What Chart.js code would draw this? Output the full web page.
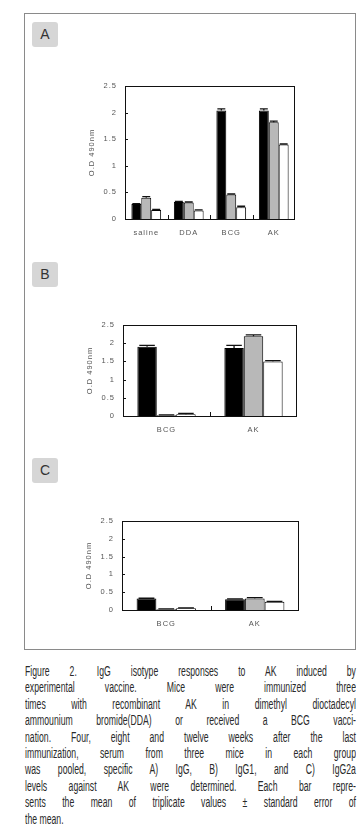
<!DOCTYPE html>
<html>
<head>
<meta charset="utf-8">
<script src="https://cdn.jsdelivr.net/npm/chart.js@4"></script>
<style>
  body { margin: 0; background: #fff; width: 358px; height: 831px; overflow: hidden; position: relative; font-family: "Liberation Sans", Arial, sans-serif; }
  #frame { position: absolute; left: 24px; top: 13px; width: 330px; height: 635px; border: 1.5px solid #8a8a8a; }
  .tag { position: absolute; left: 32px; width: 26px; height: 25px; background: #d6d6d6; border-radius: 3px;
         color: #333; font-size: 14px; line-height: 25px; text-align: center; }
  canvas { position: absolute; }
  #caption { position: absolute; left: 25px; top: 663px; font-family: "Liberation Sans", Arial, sans-serif;
             font-size: 15.5px; line-height: 16.4px; color: #2a2a2a; }
  #caption div { width: 591px; transform: scaleX(0.56); transform-origin: 0 0;
                 text-align: justify; text-align-last: justify; white-space: nowrap; }
  #caption div.last { text-align-last: left; }
</style>
</head>
<body>
<div id="frame"></div>
<div class="tag" style="top:22px">A</div>
<div class="tag" style="top:262px">B</div>
<div class="tag" style="top:458px">C</div>

<canvas id="chartA" width="260" height="180" style="left:50px;top:70px"></canvas>
<canvas id="chartB" width="260" height="135" style="left:50px;top:312px"></canvas>
<canvas id="chartC" width="260" height="132" style="left:50px;top:508px"></canvas>

<div id="caption">
  <div>Figure 2. IgG isotype responses to AK induced by</div>
  <div>experimental vaccine. Mice were immunized three</div>
  <div>times with recombinant AK in dimethyl dioctadecyl</div>
  <div>ammounium bromide(DDA) or received a BCG vacci-</div>
  <div>nation. Four, eight and twelve weeks after the last</div>
  <div>immunization, serum from three mice in each group</div>
  <div>was pooled, specific A) IgG, B) IgG1, and C) IgG2a</div>
  <div>levels against AK were determined. Each bar repre-</div>
  <div>sents the mean of triplicate values ± standard error of</div>
  <div class="last">the mean.</div>
</div>

<script>
// panel A - IgG
let labelsA = ['saline', 'DDA', 'BCG', 'AK'];
let week4A  = [0.28, 0.32, 2.04, 2.04];
let week8A  = [0.40, 0.31, 0.46, 1.82];
let week12A = [0.17, 0.16, 0.22, 1.40];
let err4A   = [0.01, 0.01, 0.03, 0.03];
let err8A   = [0.02, 0.01, 0.01, 0.02];
let err12A  = [0.01, 0.01, 0.02, 0.01];

// panel B - IgG1
let labelsB = ['BCG', 'AK'];
let week4B  = [1.90, 1.87];
let week8B  = [0.02, 2.19];
let week12B = [0.05, 1.50];
let err4B   = [0.04, 0.07];
let err8B   = [0.01, 0.04];
let err12B  = [0.02, 0.02];

// panel C - IgG2a
let labelsC = ['BCG', 'AK'];
let week4C  = [0.32, 0.30];
let week8C  = [0.02, 0.32];
let week12C = [0.05, 0.23];
let err4C   = [0.01, 0.01];
let err8C   = [0.01, 0.03];
let err12C  = [0.01, 0.01];

let yTicks = [0, 0.5, 1, 1.5, 2, 2.5];

// box round the plot, inward ticks and error bars
const framePlugin = {
    id: 'framePlugin',
    beforeDraw(chart) { chart.ctx.letterSpacing = '1px'; },
    afterDatasetsDraw(chart) {
        const ctx = chart.ctx;
        const a = chart.chartArea;
        const y = chart.scales.y;
        ctx.save();
        ctx.strokeStyle = '#111';
        // error bars
        chart.data.datasets.forEach((ds, i) => {
            const meta = chart.getDatasetMeta(i);
            meta.data.forEach((bar, j) => {
                const top = y.getPixelForValue(ds.data[j] + ds.errors[j]);
                const half = bar.width * 0.4;
                ctx.lineWidth = 1.3;
                ctx.beginPath();
                ctx.moveTo(bar.x, bar.y);
                ctx.lineTo(bar.x, top);
                ctx.moveTo(bar.x - half, top);
                ctx.lineTo(bar.x + half, top);
                ctx.stroke();
            });
        });
        // plot box
        ctx.lineWidth = 1;
        ctx.strokeRect(a.left + 0.5, a.top + 0.5, a.right - a.left - 1, a.bottom - a.top);
        // inward ticks
        ctx.beginPath();
        yTicks.forEach(v => {
            const py = Math.round(y.getPixelForValue(v)) + 0.5;
            ctx.moveTo(a.left, py);
            ctx.lineTo(a.left + 3, py);
        });
        const n = chart.data.labels.length;
        for (let k = 1; k < n; k++) {
            const px = Math.round(a.left + k * (a.right - a.left) / n) + 0.5;
            ctx.moveTo(px, a.bottom);
            ctx.lineTo(px, a.bottom - 4);
        }
        ctx.stroke();
        ctx.restore();
    }
};

function makeChart(id, labels, d4, d8, d12, e4, e8, e12, g) {
    new Chart(document.getElementById(id), {
        type: 'bar',
        data: {
            labels: labels,
            datasets: [
                { label: '4 weeks',  data: d4,  errors: e4,  backgroundColor: '#000', borderColor: '#000', borderWidth: 1 },
                { label: '8 weeks',  data: d8,  errors: e8,  backgroundColor: '#b8b8b8', borderColor: '#000', borderWidth: 1 },
                { label: '12 weeks', data: d12, errors: e12, backgroundColor: '#fff', borderColor: '#000', borderWidth: 1 }
            ]
        },
        options: {
            responsive: false,
            animation: false,
            categoryPercentage: g.cat,
            barPercentage: 1.0,
            layout: { padding: { top: g.top, right: g.right, left: 0, bottom: 0 } },
            plugins: { legend: { display: false }, tooltip: { enabled: false } },
            scales: {
                x: {
                    grid: { display: false, drawTicks: false },
                    border: { display: false },
                    ticks: { color: '#555', font: { family: 'Liberation Sans', size: 7.5 }, padding: 9 },
                    afterFit: s => { s.height = g.xh; }
                },
                y: {
                    min: 0, max: 2.5,
                    afterBuildTicks: s => { s.ticks = yTicks.map(v => ({ value: v })); },
                    grid: { display: false, drawTicks: false },
                    border: { display: false },
                    ticks: { color: '#555', font: { family: 'Liberation Sans', size: 7.5 }, padding: 8,
                             callback: v => String(v) },
                    title: { display: true, text: 'O.D 490nm', color: '#555',
                             font: { family: 'Liberation Sans', size: 7.5 }, padding: { top: g.tpad, bottom: 0 } },
                    afterFit: s => { s.width = g.yw; }
                }
            }
        },
        plugins: [framePlugin]
    });
}

makeChart('chartA', labelsA, week4A, week8A, week12A, err4A, err8A, err12A,
    { cat: 0.7, top: 16, right: 15, xh: 31, yw: 75, tpad: 37 });
makeChart('chartB', labelsB, week4B, week8B, week12B, err4B, err8B, err12B,
    { cat: 0.67, top: 13, right: 13, xh: 31, yw: 73, tpad: 35 });
makeChart('chartC', labelsC, week4C, week8C, week12C, err4C, err8C, err12C,
    { cat: 0.67, top: 13, right: 11, xh: 30, yw: 72, tpad: 34 });
</script>
</body>
</html>
